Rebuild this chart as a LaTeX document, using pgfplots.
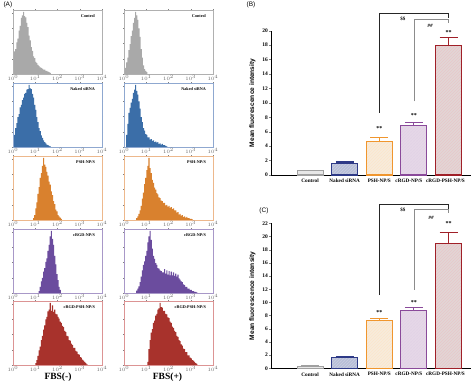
\documentclass[border=0pt]{standalone}
\usepackage{fontspec}
\setmainfont{Liberation Serif}
\newfontfamily\arialfont{Liberation Sans}
\usepackage{pgfplots}
\pgfplotsset{compat=1.18}
\usetikzlibrary{patterns}
\definecolor{hgray}{HTML}{A9A9A9}\definecolor{fgray}{HTML}{B0B0B0}
\definecolor{hblue}{HTML}{3B6EA8}\definecolor{fblue}{HTML}{8FA8D0}
\definecolor{horange}{HTML}{D9812E}\definecolor{forange}{HTML}{EDB88C}
\definecolor{hpurple}{HTML}{6B4C9E}\definecolor{fpurple}{HTML}{A898C8}
\definecolor{hred}{HTML}{A8322C}\definecolor{fred}{HTML}{DC9494}
\definecolor{bgray}{HTML}{A0A0A0}\definecolor{bgrayf}{HTML}{E8E8E8}
\definecolor{bnavy}{HTML}{2E3A87}\definecolor{bnavyf}{HTML}{B8BFD8}
\definecolor{borange}{HTML}{F0962E}\definecolor{borangef}{HTML}{F7ECDC}
\definecolor{bpurple}{HTML}{8A4A9A}\definecolor{bpurplef}{HTML}{E6D8E8}
\definecolor{bred}{HTML}{A02028}\definecolor{bredf}{HTML}{E2D6D6}
\tikzset{hlab/.style={anchor=east, font=\bfseries\fontsize{4.2}{5}\selectfont}}
\newcommand{\shiftlab}[2]{\makebox[0pt]{\kern#1 #2}}
\pgfplotsset{
 histo/.style={anchor=north west, width=89pt, height=64pt, scale only axis,
  xmin=0, xmax=4, ymin=0, ymax=1.05,
  xtick={0,1,2,3,4}, xticklabels={$10^0$,$10^1$,$10^2$,$10^3$,$10^4$},
  ytick={0,0.25,0.5,0.75,1}, yticklabels={},
  tick align=outside, major tick length=1pt,
  tick style={line width=0.3pt,black!50},
  x tick label style={font=\fontsize{2.5}{3}\selectfont, text=black!60, inner sep=0.5pt},
  axis line style={line width=0.5pt}, axis on top},
 barax/.style={anchor=south west, width=200pt, scale only axis,
  xmin=-1.13, xmax=4.65, ymin=0, axis lines*=left,
  axis line style={line width=0.6pt},
  xtick={0,1,2,3,4},
  xticklabels={Control, Naked siRNA, PSH-NP/S, \shiftlab{-10pt}{cRGD-NP/S}, \shiftlab{-6pt}{cRGD-PSH-NP/S}},
  x tick label style={font=\bfseries\fontsize{5.2}{6}\selectfont, inner sep=1pt, yshift=-1pt},
  major x tick style={draw=none},
  y tick label style={font=\bfseries\fontsize{5.5}{6}\selectfont, inner sep=1pt},
  /pgf/number format/assume math mode=true,
  tick align=outside, major tick length=2pt,
  ybar, bar width=0.75, bar shift=0pt, clip=false,
  ylabel={Mean fluorescence intensity},
  ylabel style={font=\arialfont\bfseries\fontsize{6.6}{7}\selectfont, at={(axis description cs:-0.0925,0.5)}, anchor=center}},
 bstyle/.style 2 args={draw=#1, fill=#2, line width=1.1pt,
  postaction={pattern=north east lines, pattern color=#1!25},
  error bars/.cd, y dir=plus, y explicit,
  error bar style={line width=1.1pt, draw=#1},
  error mark options={rotate=90, mark size=9pt, line width=1.1pt, draw=#1}},
}
\begin{document}
\begin{tikzpicture}
\useasboundingbox (0,0) rectangle (474pt,-384pt);
% ---------------- (A) histograms ----------------
\node[anchor=west, font=\arialfont\fontsize{6.5}{7}\selectfont] at (0pt,-5pt) {(A)};
% Row 1 Control
\begin{axis}[histo, at={(13pt,-10pt)}, axis line style={fgray}]
\addplot[const plot, fill=hgray, draw=none] coordinates {(0,0.30)(0.05,0.37)(0.10,0.41)(0.15,0.52)(0.20,0.58)(0.25,0.71)(0.30,0.79)(0.35,0.92)(0.40,0.96)(0.45,1.02)(0.50,0.95)(0.55,0.93)(0.60,0.84)(0.65,0.77)(0.70,0.63)(0.75,0.55)(0.80,0.44)(0.85,0.38)(0.90,0.29)(0.95,0.26)(1.00,0.20)(1.05,0.18)(1.10,0.15)(1.15,0.13)(1.20,0.11)(1.25,0.10)(1.30,0.09)(1.35,0.07)(1.40,0.07)(1.45,0.05)(1.50,0.05)(1.55,0.04)(1.60,0.03)(1.65,0.02)(1.70,0)} \closedcycle;
\node[hlab] at (axis description cs:0.96,0.9) {Control};
\end{axis}
\begin{axis}[histo, at={(124pt,-10pt)}, axis line style={fgray}]
\addplot[const plot, fill=hgray, draw=none] coordinates {(0.05,0.10)(0.10,0.19)(0.15,0.27)(0.20,0.39)(0.25,0.49)(0.30,0.62)(0.35,0.71)(0.40,0.84)(0.45,0.92)(0.50,1.02)(0.55,0.96)(0.60,0.89)(0.65,0.75)(0.70,0.61)(0.75,0.41)(0.80,0.27)(0.85,0.14)(0.90,0.08)(0.95,0.05)(1.00,0.03)(1.05,0)} \closedcycle;
\node[hlab] at (axis description cs:0.96,0.9) {Control};
\end{axis}
% Row 2 Naked siRNA
\begin{axis}[histo, at={(13pt,-83pt)}, axis line style={fblue}]
\addplot[const plot, fill=hblue, draw=none] coordinates {(0.05,0.20)(0.10,0.31)(0.15,0.39)(0.20,0.49)(0.25,0.54)(0.30,0.65)(0.35,0.69)(0.40,0.77)(0.45,0.81)(0.50,0.87)(0.55,0.89)(0.60,0.94)(0.65,0.95)(0.70,1.02)(0.75,0.96)(0.80,0.95)(0.85,0.87)(0.90,0.81)(0.95,0.69)(1.00,0.61)(1.05,0.49)(1.10,0.41)(1.15,0.31)(1.20,0.26)(1.25,0.19)(1.30,0.15)(1.35,0.11)(1.40,0.08)(1.45,0.06)(1.50,0.04)(1.55,0.03)(1.60,0.02)(1.65,0.01)(1.70,0)} \closedcycle;
\node[hlab] at (axis description cs:0.96,0.9) {Naked siRNA};
\end{axis}
\begin{axis}[histo, at={(124pt,-83pt)}, axis line style={fblue}]
\addplot[const plot, fill=hblue, draw=none] coordinates {(0.10,0.20)(0.15,0.38)(0.20,0.56)(0.25,0.64)(0.30,0.73)(0.35,0.79)(0.40,0.89)(0.45,0.94)(0.50,1.02)(0.55,0.92)(0.60,0.86)(0.65,0.75)(0.70,0.63)(0.75,0.49)(0.80,0.41)(0.85,0.31)(0.90,0.27)(0.95,0.21)(1.00,0.20)(1.05,0.16)(1.10,0.16)(1.15,0.12)(1.20,0.13)(1.25,0.10)(1.30,0.11)(1.35,0.08)(1.40,0.09)(1.45,0.07)(1.50,0.08)(1.55,0.05)(1.60,0.06)(1.65,0.04)(1.70,0.05)(1.75,0.03)(1.80,0.03)(1.85,0.02)(1.90,0.01)(1.95,0)} \closedcycle;
\node[hlab] at (axis description cs:0.96,0.9) {Naked siRNA};
\end{axis}
% Row 3 PSH-NP/S
\begin{axis}[histo, at={(13pt,-156pt)}, axis line style={forange}]
\addplot[const plot, fill=horange, draw=none] coordinates {(0.90,0.03)(0.95,0.08)(1.00,0.19)(1.05,0.29)(1.10,0.43)(1.15,0.54)(1.20,0.69)(1.25,0.77)(1.30,0.89)(1.35,1.02)(1.40,0.91)(1.45,0.87)(1.50,0.79)(1.55,0.73)(1.60,0.63)(1.65,0.58)(1.70,0.47)(1.75,0.41)(1.80,0.31)(1.85,0.26)(1.90,0.17)(1.95,0.14)(2.00,0.08)(2.05,0.06)(2.10,0.04)(2.15,0.02)(2.20,0)} \closedcycle;
\node[hlab] at (axis description cs:0.96,0.9) {PSH-NP/S};
\end{axis}
\begin{axis}[histo, at={(124pt,-156pt)}, axis line style={forange}]
\addplot[const plot, fill=horange, draw=none] coordinates {(0.55,0.03)(0.60,0.06)(0.65,0.10)(0.70,0.16)(0.75,0.23)(0.80,0.35)(0.85,0.45)(0.90,0.59)(0.95,0.69)(1.00,0.82)(1.05,0.89)(1.10,1.02)(1.15,0.85)(1.20,0.77)(1.25,0.66)(1.30,0.61)(1.35,0.53)(1.40,0.50)(1.45,0.44)(1.50,0.42)(1.55,0.37)(1.60,0.36)(1.65,0.32)(1.70,0.31)(1.75,0.28)(1.80,0.28)(1.85,0.24)(1.90,0.25)(1.95,0.22)(2.00,0.23)(2.05,0.20)(2.10,0.21)(2.15,0.18)(2.20,0.19)(2.25,0.16)(2.30,0.16)(2.35,0.12)(2.40,0.13)(2.45,0.09)(2.50,0.10)(2.55,0.07)(2.60,0.08)(2.65,0.05)(2.70,0.06)(2.75,0.04)(2.80,0.05)(2.85,0.03)(2.90,0.03)(2.95,0.02)(3.00,0.02)(3.05,0.01)(3.10,0)} \closedcycle;
\node[hlab] at (axis description cs:0.96,0.9) {PSH-NP/S};
\end{axis}
% Row 4 cRGD-NP/S
\begin{axis}[histo, at={(13pt,-229pt)}, axis line style={fpurple}]
\addplot[const plot, fill=hpurple, draw=none] coordinates {(1.15,0.03)(1.20,0.10)(1.25,0.19)(1.30,0.25)(1.35,0.35)(1.40,0.41)(1.45,0.51)(1.50,0.57)(1.55,0.69)(1.60,0.79)(1.65,0.93)(1.70,1.02)(1.75,0.89)(1.80,0.79)(1.85,0.61)(1.90,0.47)(1.95,0.31)(2.00,0.21)(2.05,0.10)(2.10,0.05)(2.15,0)} \closedcycle;
\node[hlab] at (axis description cs:0.96,0.9) {cRGD-NP/S};
\end{axis}
\begin{axis}[histo, at={(124pt,-229pt)}, axis line style={fpurple}]
\addplot[const plot, fill=hpurple, draw=none] coordinates {(0.55,0.04)(0.60,0.07)(0.65,0.11)(0.70,0.18)(0.75,0.27)(0.80,0.37)(0.85,0.46)(0.90,0.52)(0.95,0.61)(1.00,0.69)(1.05,0.83)(1.10,0.93)(1.15,1.02)(1.20,0.87)(1.25,0.73)(1.30,0.61)(1.35,0.56)(1.40,0.49)(1.45,0.46)(1.50,0.41)(1.55,0.40)(1.60,0.37)(1.65,0.36)(1.70,0.34)(1.75,0.34)(1.80,0.39)(1.85,0.32)(1.90,0.37)(1.95,0.30)(2.00,0.36)(2.05,0.29)(2.10,0.35)(2.15,0.29)(2.20,0.34)(2.25,0.28)(2.30,0.32)(2.35,0.27)(2.40,0.30)(2.45,0.24)(2.50,0.22)(2.55,0.19)(2.60,0.18)(2.65,0.14)(2.70,0.13)(2.75,0.10)(2.80,0.10)(2.85,0.07)(2.90,0.07)(2.95,0.05)(3.00,0.05)(3.05,0.03)(3.10,0.03)(3.15,0.02)(3.20,0.02)(3.25,0.01)(3.30,0)} \closedcycle;
\node[hlab] at (axis description cs:0.96,0.9) {cRGD-NP/S};
\end{axis}
% Row 5 cRGD-PSH-NP/S
\begin{axis}[histo, at={(13pt,-301pt)}, axis line style={fred}]
\addplot[const plot, fill=hred, draw=none] coordinates {(1.00,0.03)(1.05,0.08)(1.10,0.15)(1.15,0.24)(1.20,0.30)(1.25,0.41)(1.30,0.48)(1.35,0.58)(1.40,0.65)(1.45,0.75)(1.50,0.79)(1.55,0.88)(1.60,0.91)(1.65,1.02)(1.70,0.89)(1.75,0.98)(1.80,0.87)(1.85,0.91)(1.90,0.84)(1.95,0.83)(2.00,0.79)(2.05,0.76)(2.10,0.71)(2.15,0.69)(2.20,0.64)(2.25,0.62)(2.30,0.56)(2.35,0.54)(2.40,0.48)(2.45,0.47)(2.50,0.41)(2.55,0.40)(2.60,0.35)(2.65,0.33)(2.70,0.28)(2.75,0.28)(2.80,0.23)(2.85,0.22)(2.90,0.18)(2.95,0.17)(3.00,0.13)(3.05,0.12)(3.10,0.09)(3.15,0.07)(3.20,0.05)(3.25,0.03)(3.30,0.01)(3.35,0)} \closedcycle;
\node[hlab] at (axis description cs:0.96,0.9) {cRGD-PSH-NP/S};
\end{axis}
\begin{axis}[histo, at={(124pt,-301pt)}, axis line style={fred}]
\addplot[const plot, fill=hred, draw=none] coordinates {(1.05,0.05)(1.10,0.26)(1.15,0.41)(1.20,0.53)(1.25,0.59)(1.30,0.69)(1.35,0.73)(1.40,0.81)(1.45,0.84)(1.50,0.91)(1.55,0.93)(1.60,1.02)(1.65,0.95)(1.70,0.94)(1.75,0.89)(1.80,0.89)(1.85,0.84)(1.90,0.83)(1.95,0.78)(2.00,0.77)(2.05,0.71)(2.10,0.69)(2.15,0.63)(2.20,0.61)(2.25,0.56)(2.30,0.54)(2.35,0.48)(2.40,0.46)(2.45,0.41)(2.50,0.39)(2.55,0.34)(2.60,0.32)(2.65,0.27)(2.70,0.26)(2.75,0.21)(2.80,0.21)(2.85,0.16)(2.90,0.16)(2.95,0.12)(3.00,0.11)(3.05,0.08)(3.10,0.07)(3.15,0.05)(3.20,0.03)(3.25,0.02)(3.30,0)} \closedcycle;
\node[hlab] at (axis description cs:0.96,0.9) {cRGD-PSH-NP/S};
\end{axis}
\node[font=\bfseries\fontsize{9.5}{11}\selectfont] at (58pt,-377pt) {FBS(-)};
\node[font=\bfseries\fontsize{9.5}{11}\selectfont] at (167.5pt,-377pt) {FBS(+)};
% ---------------- (B) ----------------
\node[font=\arialfont\fontsize{6.5}{7}\selectfont] at (251pt,-5pt) {(B)};
\begin{axis}[barax, at={(271pt,-175pt)}, height=144.3pt, ymax=20, ytick={0,2,...,20}]
\addplot[bstyle={bgray}{bgrayf}] coordinates {(0,0.6) +- (0,0.05)};
\addplot[bstyle={bnavy}{bnavyf}] coordinates {(1,1.6) +- (0,0.2)};
\addplot[bstyle={borange}{borangef}] coordinates {(2,4.7) +- (0,0.5)};
\addplot[bstyle={bpurple}{bpurplef}] coordinates {(3,6.8) +- (0,0.45)};
\addplot[bstyle={bred}{bredf}] coordinates {(4,18.0) +- (0,1.0)};
\draw[black!85, line width=0.8pt] (axis cs:2,8.6) -- (axis cs:2,22.4) -- (axis cs:4,22.4) -- (axis cs:4,21.8);
\draw[black!45, line width=0.8pt] (axis cs:3,10.2) -- (axis cs:3,21.6) -- (axis cs:4,21.6) -- (axis cs:4,21.0);
\node[font=\bfseries\fontsize{5}{6}\selectfont] at (axis cs:2.68,21.7) {\$\$};
\node[font=\bfseries\itshape\fontsize{5}{6}\selectfont] at (axis cs:3.47,20.7) {\#\#};
\node[font=\bfseries\fontsize{6}{6}\selectfont] at (axis cs:2,6.4) {**};
\node[font=\bfseries\fontsize{6}{6}\selectfont] at (axis cs:3,8.3) {**};
\node[font=\bfseries\fontsize{6}{6}\selectfont] at (axis cs:4,19.8) {**};
\end{axis}
% ---------------- (C) ----------------
\node[font=\arialfont\fontsize{6.5}{7}\selectfont] at (264pt,-211pt) {(C)};
\begin{axis}[barax, at={(271pt,-368.3pt)}, height=145pt, ymax=22, ytick={0,2,...,22}]
\addplot[bstyle={bgray}{bgrayf}] coordinates {(0,0.3) +- (0,0.05)};
\addplot[bstyle={bnavy}{bnavyf}] coordinates {(1,1.7) +- (0,0.1)};
\addplot[bstyle={borange}{borangef}] coordinates {(2,7.2) +- (0,0.3)};
\addplot[bstyle={bpurple}{bpurplef}] coordinates {(3,8.8) +- (0,0.4)};
\addplot[bstyle={bred}{bredf}] coordinates {(4,19.0) +- (0,1.6)};
\draw[black!85, line width=0.8pt] (axis cs:2,11.1) -- (axis cs:2,24.8) -- (axis cs:4,24.8) -- (axis cs:4,23.9);
\draw[black!45, line width=0.8pt] (axis cs:3,11.9) -- (axis cs:3,24.1) -- (axis cs:4,24.1) -- (axis cs:4,23.6);
\node[font=\bfseries\fontsize{5}{6}\selectfont] at (axis cs:2.68,24.0) {\$\$};
\node[font=\bfseries\itshape\fontsize{5}{6}\selectfont] at (axis cs:3.5,22.9) {\#\#};
\node[font=\bfseries\fontsize{6}{6}\selectfont] at (axis cs:2,8.5) {**};
\node[font=\bfseries\fontsize{6}{6}\selectfont] at (axis cs:3,10.0) {**};
\node[font=\bfseries\fontsize{6}{6}\selectfont] at (axis cs:4,21.9) {**};
\end{axis}
\end{tikzpicture}
\end{document}
